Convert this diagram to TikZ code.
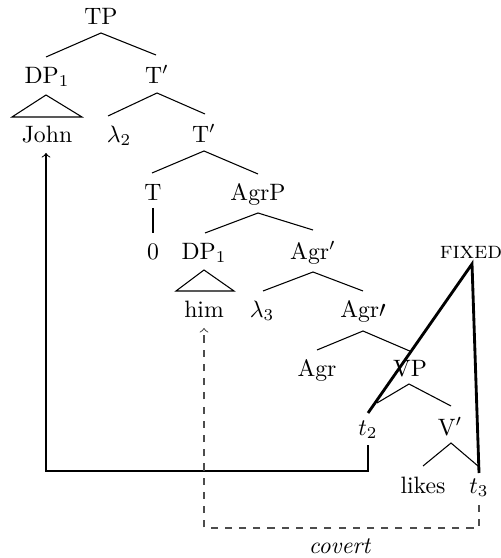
\documentclass[tikz,border=0pt]{standalone}
\usetikzlibrary{calc}
\begin{document}
\begin{tikzpicture}[x=0.422pt,y=-0.422pt,
  lab/.style={inner sep=0pt,text height=6.83pt,text depth=0pt,anchor=center},
  edge/.style={line width=0.45pt},
  thickline/.style={line width=1.2pt},
  mover/.style={line width=0.45pt,->},
  covertline/.style={line width=0.45pt,->,dashed,draw=black!70}]
\useasboundingbox (0,0) rectangle (500,558);
% nodes
\node[lab] (TP) at (101,16) {TP};
\node[lab] (DPa) at (47,75) {DP$_1$};
\node[lab] (Ta) at (157,75) {T$'$};
\node[lab] (John) at (47,134) {John};
\node[lab] (lam2) at (119,134) {$\lambda_2$};
\node[lab] (Tb) at (204,134) {T$'$};
\node[lab] (T) at (153,192) {T};
\node[lab] (AgrP) at (258,192) {AgrP};
\node[lab] (zero) at (153,251) {0};
\node[lab] (DPb) at (204,251) {DP$_1$};
\node[lab] (Agra) at (313,251) {Agr$'$};
\node[lab] (him) at (204,309) {him};
\node[lab] (lam3) at (262,309) {$\lambda_3$};
\node[lab] (Agrb) at (363,309) {Agr$\prime$};
\node[lab] (Agr) at (317,368) {Agr};
\node[lab] (VP) at (410,368) {VP};
\node[lab] (t2) at (368,427) {$t_2$};
\node[lab] (Vb) at (450,427) {V$'$};
\node[lab] (likes) at (423,485) {likes};
\node[lab] (t3) at (479,485) {$t_3$};
\node[lab] (fixed) at (471,250) {\textsc{fixed}};
\node[lab] (covert) at (340,545) {\textit{covert}};
% tree edges
\draw[edge] ($(DPa)+(-1,-18)$) -- ($(TP)+(0,17)$) -- ($(Ta)+(-1,-20)$);
\draw[edge] ($(DPa)+(-1,20)$) -- ($(John)+(-35,-17)$) -- ($(John)+(35,-17)$) -- cycle;
\draw[edge] ($(lam2)+(-11,-18)$) -- ($(Ta)+(0,18)$) -- ($(Tb)+(1,-20)$);
\draw[edge] ($(T)+(-1,-19)$) -- ($(Tb)+(0,17)$) -- ($(AgrP)+(0,-18)$);
\draw[edge] ($(T)+(0,16)$) -- ($(zero)+(0,-18)$);
\draw[edge] ($(DPb)+(1,-18)$) -- ($(AgrP)+(0,21)$) -- ($(Agra)+(0,-21)$);
\draw[edge] ($(DPb)+(0,19)$) -- ($(him)+(-28,-18)$) -- ($(him)+(30,-18)$) -- cycle;
\draw[edge] ($(lam3)+(1,-18)$) -- ($(Agra)+(0,21)$) -- ($(Agrb)+(0,-18)$);
\draw[edge] ($(Agr)+(0,-18)$) -- ($(Agrb)+(0,22)$) -- ($(VP)+(2,-16)$);
\draw[edge] ($(t2)+(9,-24)$) -- ($(VP)+(-1,16)$) -- ($(Vb)+(1,-21)$);
\draw[edge] ($(likes)+(0,-19)$) -- ($(Vb)+(1,16)$) -- ($(t3)+(-1,-19)$);
% fixed lines
\draw[thickline] ($(t2)+(0,-14)$) -- ($(fixed)+(1,14)$) -- ($(t3)+(0,-12)$);
% movement arrows
\draw[mover] ($(t2)+(0,18)$) -- ($(t2)+(0,44)$) -| ($(John)+(-1,19)$);
\draw[covertline] ($(t3)+(0,20)$) -- ($(t3)+(0,43)$) -| ($(him)+(0,19)$);
\end{tikzpicture}
\end{document}
